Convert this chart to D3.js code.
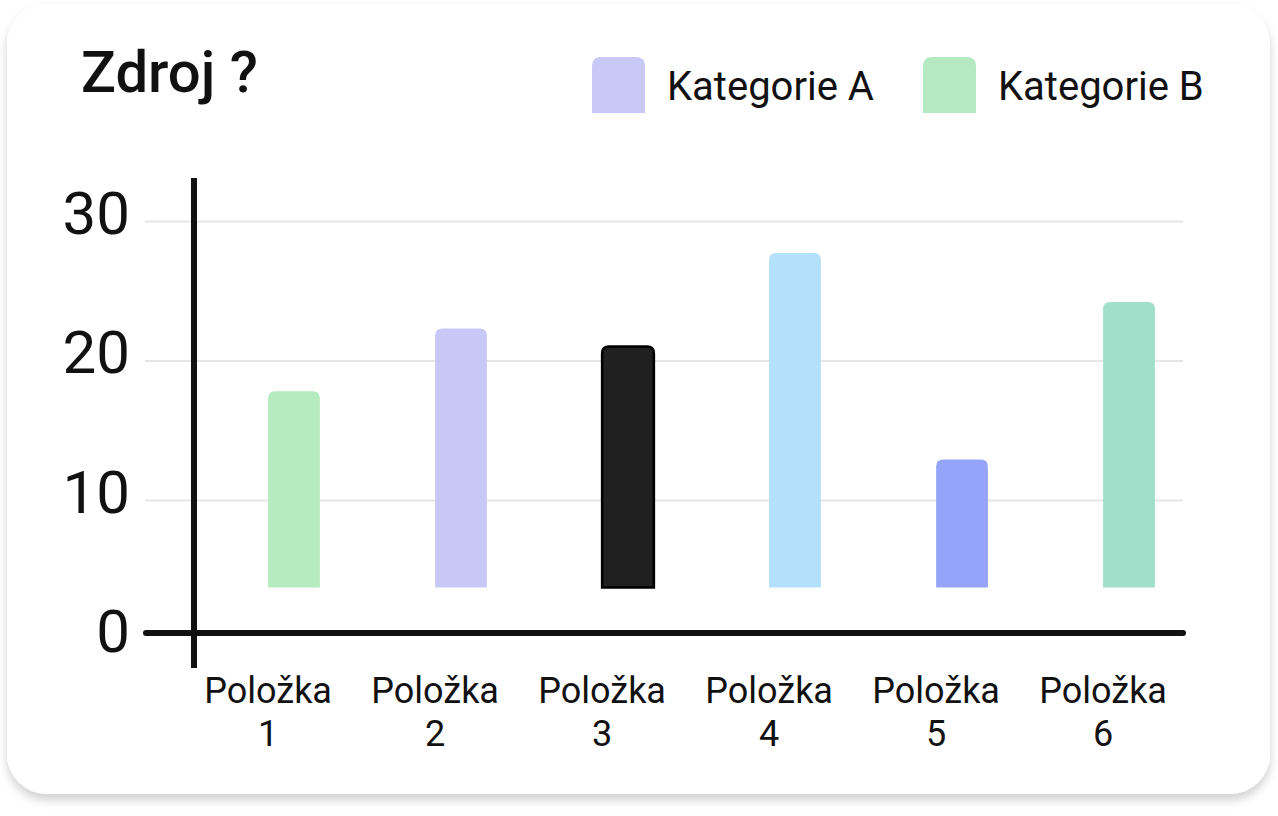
<!DOCTYPE html>
<html>
<head>
<meta charset="utf-8">
<script src="https://cdn.jsdelivr.net/npm/d3@7"></script>
<style>
  html, body { margin: 0; padding: 0; background: #fff; }
  #chart { width: 1278px; height: 816px; }
  text { font-family: Roboto, "Noto Sans", sans-serif; fill: #111; }
</style>
</head>
<body>
<div id="chart"></div>
<script>
// data
const categories = ["Položka 1", "Položka 2", "Položka 3", "Položka 4", "Položka 5", "Položka 6"];
const values = [17.8, 22.3, 21.0, 27.7, 12.9, 24.2];
const barColors = ["#b6ebbf", "#c7c8f6", "#202020", "#b3e0fb", "#95a4f8", "#a0dfc9"];
const legendLabels = ["Kategorie A", "Kategorie B"];
const legendColors = ["#c8c9f6", "#b5e9c1"];
const yTicks = [0, 10, 20, 30];
const title = "Zdroj ?";

const width = 1278;
const height = 816;

const svg = d3.select("#chart")
    .append("svg")
    .attr("width", width)
    .attr("height", height);

// card shadow
const defs = svg.append("defs");
const f = defs.append("filter").attr("id", "shadow")
    .attr("x", "-5%").attr("y", "-5%").attr("width", "110%").attr("height", "115%");
f.append("feDropShadow")
    .attr("dx", 0).attr("dy", 6)
    .attr("stdDeviation", 5)
    .attr("flood-color", "#000")
    .attr("flood-opacity", 0.18);

svg.append("rect")
    .attr("x", 7).attr("y", 4)
    .attr("width", 1263).attr("height", 790)
    .attr("rx", 40)
    .attr("fill", "#fff")
    .attr("filter", "url(#shadow)");

// scales
const y = d3.scaleLinear().domain([0, 30]).range([639.5, 221]);
const x = d3.scaleBand()
    .domain(categories)
    .range([210.5, 1212.5])
    .paddingInner(0.69)
    .paddingOuter(0.345);

const gridLeft = 145, gridRight = 1183;

// gridlines + y labels
const yAxis = svg.append("g")
    .attr("transform", `translate(${gridLeft},0)`)
    .call(d3.axisLeft(y)
        .tickValues(yTicks)
        .tickSize(-(gridRight - gridLeft))
        .tickPadding(15)
        .tickFormat(d3.format("d")));
yAxis.select(".domain").remove();
yAxis.selectAll(".tick line")
    .attr("stroke", "#e6e6e6")
    .attr("stroke-width", 2)
    .filter(d => d === 0).remove();
yAxis.selectAll(".tick text")
    .attr("font-size", 60)
    .attr("font-family", "Roboto, sans-serif")
    .attr("fill", "#111")
    .attr("dy", null)
    .attr("y", 12);

// bars (rounded top corners), bars stop a bit above the axis
const barFloor = y(0) - 52;
const r = 7;
function barPath(x0, w, top, bottom) {
    return `M${x0},${bottom} V${top + r} Q${x0},${top} ${x0 + r},${top} H${x0 + w - r} Q${x0 + w},${top} ${x0 + w},${top + r} V${bottom} Z`;
}
svg.append("g").selectAll("path")
    .data(categories)
    .enter()
    .append("path")
    .attr("d", (c, i) => barPath(x(c), x.bandwidth(), y(values[i]), barFloor))
    .attr("fill", (c, i) => barColors[i])
    .attr("stroke", (c, i) => i === 2 ? "#000" : "none")
    .attr("stroke-width", 2.5);

// x labels, two lines
const xl = svg.append("g").selectAll("text")
    .data(categories)
    .enter()
    .append("text")
    .attr("text-anchor", "middle")
    .attr("font-size", 36)
    .attr("x", c => x(c))
    .attr("y", 703);
xl.append("tspan")
    .attr("x", c => x(c))
    .text(c => c.split(" ")[0]);
xl.append("tspan")
    .attr("x", c => x(c))
    .attr("dy", 43)
    .text(c => c.split(" ")[1]);

// axis lines
svg.append("line")
    .attr("x1", 146).attr("x2", gridRight)
    .attr("y1", 633).attr("y2", 633)
    .attr("stroke", "#111")
    .attr("stroke-width", 6)
    .attr("stroke-linecap", "round");
svg.append("line")
    .attr("x1", 194).attr("x2", 194)
    .attr("y1", 178).attr("y2", 668)
    .attr("stroke", "#111")
    .attr("stroke-width", 6);

// title
svg.append("text")
    .attr("x", 81).attr("y", 92)
    .attr("font-size", 58)
    .attr("font-weight", 500)
    .text(title);

// legend
const legendX = [592, 923];
const lg = svg.append("g").selectAll("g")
    .data(legendLabels)
    .enter()
    .append("g")
    .attr("transform", (d, i) => `translate(${legendX[i]},57)`);
lg.append("path")
    .attr("d", () => {
        const w = 53, h = 56, rr = 9;
        return `M0,${h} V${rr} Q0,0 ${rr},0 H${w - rr} Q${w},0 ${w},${rr} V${h} Z`;
    })
    .attr("fill", (d, i) => legendColors[i]);
lg.append("text")
    .attr("x", 75)
    .attr("y", 43)
    .attr("font-size", 40)
    .text(d => d);
</script>
</body>
</html>
